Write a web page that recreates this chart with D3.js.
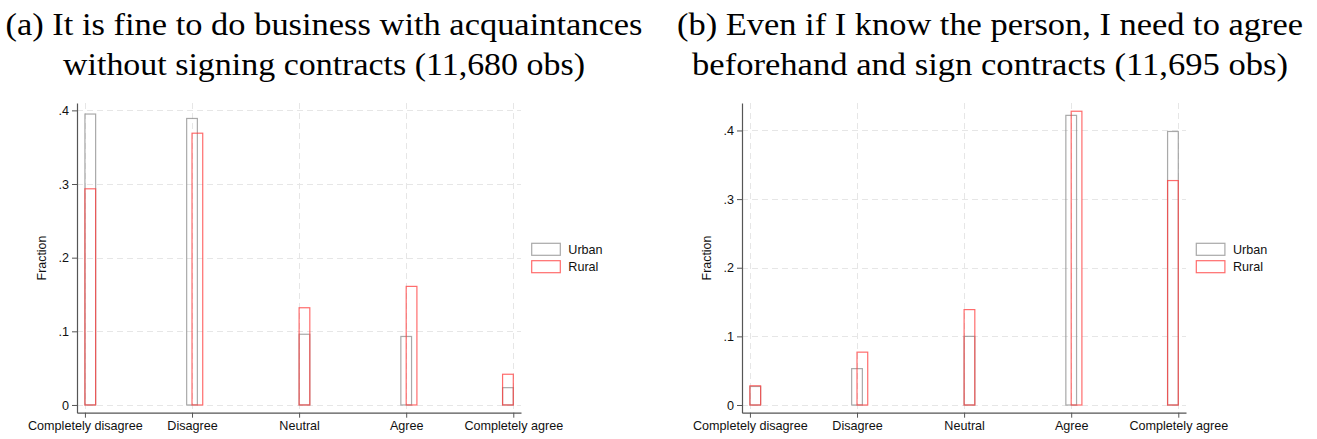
<!DOCTYPE html>
<html><head><meta charset="utf-8">
<script src="https://cdn.jsdelivr.net/npm/d3@7"></script>
<style>
html,body{margin:0;padding:0;background:#fff;}
svg{display:block;}
</style></head>
<body>
<svg id="chart" width="1317" height="439"></svg>
<script>
// ---------- data ----------
const categories = ["Completely disagree", "Disagree", "Neutral", "Agree", "Completely agree"];
const categoryValues = [1, 2, 3, 4, 5];
const seriesNames = ["Urban", "Rural"];
// bin starts (x-value units) of each histogram bar, width 0.1
const binWidth = 0.1;
const urbanBinStart = [1, 1.95, 3, 3.95, 4.9];
const ruralBinStart = [1, 2, 3, 4, 4.9];
// Panel (a)
const titleA = ["(a) It is fine to do business with acquaintances", "without signing contracts (11,680 obs)"];
const urbanA = [0.395, 0.389, 0.096, 0.093, 0.0235];
const ruralA = [0.2935, 0.369, 0.132, 0.161, 0.0417];
// Panel (b)
const titleB = ["(b) Even if I know the person, I need to agree", "beforehand and sign contracts (11,695 obs)"];
const urbanB = [0.027, 0.053, 0.100, 0.422, 0.3985];
const ruralB = [0.028, 0.077, 0.139, 0.428, 0.327];
const yTicks = [0, 0.1, 0.2, 0.3, 0.4];
const yTickLabels = ["0", ".1", ".2", ".3", ".4"];
const yLabel = "Fraction";

// ---------- layout ----------
const svg = d3.select("#chart");
const colors = {Urban: "#8c8c8c", Rural: "#ff3b3b"};
const sans = "'Liberation Sans',Arial,Helvetica,sans-serif";
const serif = "'Liberation Serif','Times New Roman',serif";

const panels = [
  {title: titleA, urban: urbanA, rural: ruralA, x0: 77, x1: 521, yDomain: [-0.0105, 0.41],
   titleCx: 324, titleW: [637, 522], yLabX: 42, legX: 531.7},
  {title: titleB, urban: urbanB, rural: ruralB, x0: 742, x1: 1186, yDomain: [-0.0112, 0.44],
   titleCx: 990, titleW: [626, 596], yLabX: 707, legX: 1196.3}
];

const yTop = 103, yBot = 412.7;
const xDomain = [0.926, 5.072];

panels.forEach(p => {
  const g = svg.append("g");
  const x = d3.scaleLinear().domain(xDomain).range([p.x0, p.x1]);
  const y = d3.scaleLinear().domain(p.yDomain).range([yBot, yTop]);

  // titles (font size fitted to the measured width of the reference)
  p.title.forEach((t, i) => {
    const txt = g.append("text").attr("x", p.titleCx).attr("y", i === 0 ? 35 : 75)
      .attr("text-anchor", "middle")
      .attr("font-family", serif)
      .attr("font-size", 28).attr("fill", "#000")
      .text(t);
    const w = txt.node().getComputedTextLength();
    const fs = 28 * p.titleW[i] / w;
    txt.attr("font-size", Math.min(fs, 31));
    const w2 = txt.node().getComputedTextLength();
    if (Math.abs(w2 - p.titleW[i]) > 3) {
      txt.attr("textLength", p.titleW[i]).attr("lengthAdjust", "spacingAndGlyphs");
    }
  });

  // grid
  const grid = g.append("g").attr("stroke", "#e6e6e6").attr("stroke-width", 1)
    .attr("stroke-dasharray", "6,4");
  yTicks.forEach(v => {
    grid.append("line").attr("x1", p.x0).attr("x2", p.x1)
      .attr("y1", Math.round(y(v)) + 0.5).attr("y2", Math.round(y(v)) + 0.5);
  });
  categoryValues.forEach(v => {
    grid.append("line").attr("y1", yTop).attr("y2", yBot)
      .attr("x1", Math.round(x(v)) + 0.5).attr("x2", Math.round(x(v)) + 0.5);
  });

  // bars
  const drawBars = (vals, starts, name) => {
    g.append("g").selectAll("rect").data(vals).join("rect")
      .attr("x", (d, i) => x(starts[i]))
      .attr("width", (d, i) => x(starts[i] + binWidth) - x(starts[i]))
      .attr("y", d => y(d))
      .attr("height", d => y(0) - y(d))
      .attr("fill", "none")
      .attr("stroke", colors[name]).attr("stroke-opacity", 0.75)
      .attr("stroke-width", 1.2);
  };
  drawBars(p.urban, urbanBinStart, "Urban");
  drawBars(p.rural, ruralBinStart, "Rural");

  // axes
  const yAxis = d3.axisLeft(y).tickValues(yTicks)
    .tickFormat((d, i) => yTickLabels[i]).tickSize(5).tickSizeOuter(0).tickPadding(3);
  const ya = g.append("g").attr("transform", `translate(${p.x0},0)`).call(yAxis);
  const xAxis = d3.axisBottom(x).tickValues(categoryValues)
    .tickFormat((d, i) => categories[i]).tickSize(5).tickSizeOuter(0).tickPadding(3);
  const xa = g.append("g").attr("transform", `translate(0,${yBot})`).call(xAxis);
  [ya, xa].forEach(a => {
    a.select(".domain").attr("stroke", "#555").attr("stroke-width", 1.2);
    a.selectAll(".tick line").attr("stroke", "#555");
    a.selectAll("text").attr("font-family", sans)
      .attr("font-size", 12.6).attr("fill", "#111");
  });

  // y label
  g.append("text").attr("transform", `translate(${p.yLabX},258) rotate(-90)`)
    .attr("text-anchor", "middle").attr("dy", "0.35em")
    .attr("font-family", sans).attr("font-size", 12.4)
    .attr("fill", "#111").text(yLabel);

  // legend
  seriesNames.forEach((s, i) => {
    const ly = 243.3 + i * 17.4;
    g.append("rect").attr("x", p.legX).attr("y", ly).attr("width", 28.6).attr("height", 12)
      .attr("fill", "none").attr("stroke", colors[s]).attr("stroke-opacity", 0.75).attr("stroke-width", 1.2);
    g.append("text").attr("x", p.legX + 36.6).attr("y", ly + 6).attr("dy", "0.35em")
      .attr("font-family", sans).attr("font-size", 12.6)
      .attr("fill", "#111").text(s);
  });
});
</script>
</body></html>
